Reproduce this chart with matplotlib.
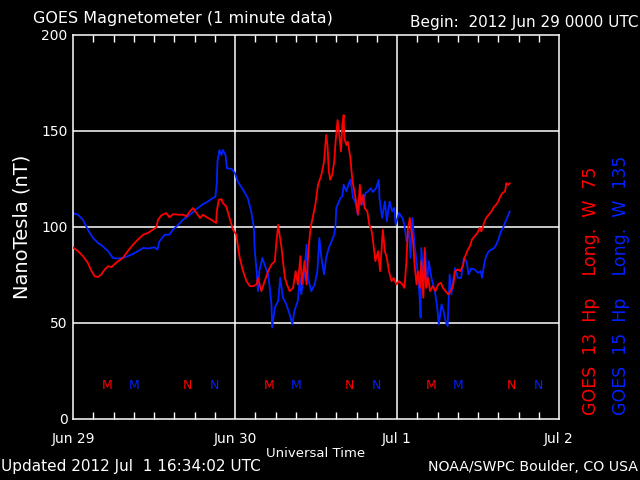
import matplotlib
matplotlib.use("Agg")
import matplotlib.pyplot as plt
import numpy as np

# Hours since 2012 Jun 29 00:00 UTC and field values (nT)
g13_hours = [0.0, 0.74, 1.48, 2.2, 2.7, 3.2, 3.7, 4.2, 4.7, 5.2, 5.7, 6.2, 6.7, 7.4, 8.1, 8.9, 9.6, 10.4,
             11.1, 11.85, 12.35, 12.6, 13.1, 13.8, 14.3, 14.8, 15.6, 16.3, 16.8, 17.3, 17.8, 18.3, 18.8,
             19.26, 20.0, 20.7, 21.2, 21.3, 21.6, 22.0, 22.2,
             22.7, 23.2, 23.7, 24.2, 24.4, 24.7, 25.2, 25.7, 26.2, 26.7, 27.2, 27.4, 27.9, 28.4, 28.9,
             29.4, 29.9, 30.1, 30.4, 30.6, 30.9, 31.1, 31.4, 31.7, 32.1, 32.6, 33.0,
             33.3, 33.7, 33.9, 34.3, 34.6, 34.9, 35.2, 35.5, 35.9, 36.3, 36.8, 37.2, 37.5, 37.7, 37.9,
             38.1, 38.4, 38.7, 38.9, 39.2, 39.4, 39.7, 39.9, 40.1, 40.2, 40.5, 40.7, 41.1, 41.4, 41.7,
             42.0, 42.2, 42.5, 42.7, 43.0, 43.2, 43.6, 43.9, 44.2,
             44.4, 44.8, 45.2, 45.5, 45.9, 46.2, 46.5, 46.8, 47.2, 47.5, 47.9, 48.3, 48.8, 49.1, 49.4,
             49.6, 49.9, 50.1, 50.4, 50.6, 50.9, 51.1, 51.4, 51.6, 51.9, 52.1, 52.3, 52.6, 52.9, 53.3,
             53.7, 54.1, 54.5, 54.8, 55.2, 55.6,
             55.95, 56.3, 56.6, 57.0, 57.4, 57.8, 58.0, 58.4, 58.8, 59.1, 59.5, 59.9, 60.25, 60.5, 60.9,
             61.2, 61.6, 62.0, 62.4, 62.7, 63.0, 63.3, 63.6, 64.0, 64.2, 64.5, 64.7]
g13_values = [89.4, 87.4, 84.8, 81.3, 77.3, 74.4, 73.9, 75.3, 77.9, 79.6, 79.1, 80.8, 82.2, 83.9, 87.4, 90.8, 93.4, 96.0,
              96.9, 98.6, 99.8, 103.8, 106.1, 107.3, 105.0, 106.7, 106.4, 106.4, 105.5, 108.1, 109.9, 107.3, 104.7,
              106.4, 104.7, 103.3, 102.1, 108.1, 114.2, 114.5, 112.5,
              110.7, 104.7, 98.6, 96.0, 90.8, 83.9, 77.0, 71.8, 69.2, 69.2, 70.1, 73.5, 66.6, 71.8, 77.0,
              80.4, 82.2, 90.8, 101.2, 96.0, 89.1, 82.2, 73.5, 70.1, 66.6, 68.3, 77.0,
              70.1, 84.8, 70.1, 82.2, 70.1, 89.1, 99.5, 104.7, 111.6, 122.0, 127.2, 134.1, 147.9, 142.7, 128.9,
              124.6, 127.2, 134.1, 144.5, 155.7, 149.7, 139.3, 153.1, 158.3, 146.2, 142.7, 144.5, 135.8, 123.7, 118.5,
              111.6, 106.4, 122.0, 111.6, 116.8, 109.9, 108.1, 101.2, 98.6,
              94.3, 82.2, 87.4, 77.0, 98.6, 87.4, 83.9, 77.0, 71.8, 73.5, 70.1, 71.8, 70.1, 68.3, 82.2,
              98.6, 104.7, 98.6, 91.8, 80.4, 70.1, 77.0, 68.3, 82.2, 63.2, 89.1, 68.3, 73.5, 66.6, 69.2,
              66.6, 70.1, 71.0, 68.3, 66.6, 64.9,
              66.6, 69.2, 77.0, 77.9, 77.0, 80.4, 83.9, 87.4, 90.0, 93.4, 95.2, 96.9, 99.5, 97.7, 102.1,
              104.7, 106.4, 108.1, 110.7, 111.6, 113.3, 115.9, 117.6, 118.5, 122.8, 122.0, 122.8]

g15_hours = [0.0, 0.74, 1.48, 2.2, 2.96, 3.7, 4.4, 5.2, 5.9, 6.7, 7.4, 8.1, 8.9, 9.6, 10.4,
             11.1, 12.1, 12.5, 12.8, 13.6, 14.3, 14.8, 15.6, 16.3, 17.0, 17.8, 18.5, 19.26, 20.0, 20.7,
             21.1, 21.3, 21.4, 21.7, 22.0, 22.2,
             22.6, 22.8, 23.5, 24.0, 24.4, 25.2, 25.9, 26.4, 26.8, 26.9, 27.2, 27.4, 27.6, 28.05, 28.4,
             28.9, 29.1, 29.4, 29.5, 29.9, 30.4, 30.7, 31.1, 31.6, 32.1, 32.5, 32.8, 33.3,
             33.6, 33.8, 34.2, 34.6, 34.8, 35.3, 35.8, 36.2, 36.5, 36.8, 37.2, 37.5, 37.9, 38.3, 38.7,
             38.9, 39.0, 39.3, 39.6, 39.9, 40.1, 40.5, 40.8, 41.1, 41.5, 41.8, 42.2, 42.6, 43.0, 43.3,
             43.7, 44.1, 44.4,
             44.9, 45.3, 45.4, 45.8, 46.2, 46.5, 46.9, 47.3, 47.6, 47.8, 48.3, 48.8, 49.1, 49.4, 49.8,
             50.0, 50.3, 50.6, 50.9, 51.3, 51.5, 51.6, 51.9, 52.2, 52.4, 52.7, 53.1, 53.6, 53.9, 54.2,
             54.6, 54.9, 55.2, 55.5,
             55.8, 56.05, 56.3, 56.6, 57.0, 57.5, 57.9, 58.3, 58.6, 59.0, 59.5, 60.0, 60.4, 60.6, 60.9,
             61.2, 61.6, 62.0, 62.4, 62.7, 63.1, 63.4, 63.7, 64.1, 64.4, 64.7]
g15_values = [107.3, 106.4, 103.8, 98.6, 94.3, 91.7, 90.0, 87.4, 83.9, 83.6, 83.9, 84.8, 86.0, 87.4, 89.1,
              88.8, 89.4, 88.2, 92.5, 96.0, 96.0, 98.6, 101.2, 103.8, 105.5, 107.8, 109.9, 111.9, 113.3, 115.0,
              115.9, 122.8, 134.0, 140.1, 137.5, 140.1,
              137.5, 130.6, 130.3, 128.0, 123.7, 119.4, 115.0, 108.1, 99.5, 89.1, 77.0, 66.6, 77.0, 83.9, 80.4,
              75.3, 70.1, 59.7, 47.6, 58.0, 61.4, 73.6, 63.2, 59.7, 54.5, 49.3, 56.2, 61.4,
              73.5, 64.9, 73.5, 90.8, 73.5, 66.6, 70.1, 77.0, 94.3, 83.9, 75.3, 83.9, 89.1, 92.5, 96.0,
              101.2, 109.9, 112.5, 115.0, 115.9, 122.0, 118.5, 122.0, 124.6, 115.0, 113.3, 106.4, 115.0, 111.6, 117.6,
              118.5, 120.2, 118.2,
              120.2, 124.6, 115.0, 104.7, 113.3, 103.0, 113.3, 108.1, 109.9, 101.2, 107.3, 104.7, 101.2, 92.5, 97.7,
              83.9, 104.7, 90.8, 82.2, 66.6, 52.8, 89.1, 73.5, 87.4, 68.3, 82.2, 73.5, 66.6, 59.7, 49.3,
              59.7, 56.2, 51.0, 48.4,
              75.3, 64.9, 71.8, 78.7, 73.5, 73.5, 83.9, 82.2, 75.3, 78.4, 77.9, 76.1, 77.0, 73.5, 80.4,
              84.8, 87.4, 88.2, 89.1, 90.8, 94.3, 97.7, 99.5, 102.9, 105.5, 108.1]

# Local midnight (M) / noon (N) markers
g13_marks = [(5, "M"), (17, "N"), (29, "M"), (41, "N"), (53, "M"), (65, "N")]
g15_marks = [(9, "M"), (21, "N"), (33, "M"), (45, "N"), (57, "M"), (69, "N")]

x_tick_pos = [0, 24, 48, 72]
x_tick_labels = ["Jun 29", "Jun 30", "Jul 1", "Jul 2"]
y_ticks = [0, 50, 100, 150, 200]

RED = "#ff0000"
BLUE = "#0022ff"

fig = plt.figure(figsize=(6.4, 4.8), dpi=100, facecolor="black")
ax = fig.add_axes([73/640, 1-419/480, (559-73)/640, (419-35)/480], facecolor="black")

ax.set_xlim(0, 72)
ax.set_ylim(0, 200)

for y in [50, 100, 150]:
    ax.axhline(y, color="white", lw=1.1, zorder=1)
for x in [24, 48]:
    ax.axvline(x, color="white", lw=1.1, zorder=1)

ax.plot(g15_hours, g15_values, color=BLUE, lw=1.3, zorder=2)
ax.plot(g13_hours, g13_values, color=RED, lw=1.3, zorder=3)

for h, s in g13_marks:
    ax.text(h, 17.7, s, color=RED, fontsize=9, ha="center", va="center")
for h, s in g15_marks:
    ax.text(h, 17.7, s, color=BLUE, fontsize=9, ha="center", va="center")

for sp in ax.spines.values():
    sp.set_color("white")
    sp.set_linewidth(1.1)

ax.set_xticks(x_tick_pos)
ax.set_xticklabels(x_tick_labels)
ax.set_xticks(np.arange(0, 73, 3), minor=True)
ax.set_yticks(y_ticks)
ax.tick_params(axis="x", which="major", direction="in", length=0, colors="white",
               labelsize=10, pad=9)
ax.tick_params(axis="x", which="minor", direction="in", length=5, colors="white",
               top=True, bottom=True, width=1)
ax.tick_params(axis="y", which="major", direction="in", length=0, colors="white",
               labelsize=10, pad=4)

ax.set_xlabel("Universal Time", color="white", fontsize=9.5, labelpad=1)
ax.set_ylabel("NanoTesla (nT)", color="white", fontsize=14, labelpad=7)

fig.text(33/640, 1-18/480, "GOES Magnetometer (1 minute data)", color="white",
         fontsize=11.5, ha="left", va="center")
fig.text(638/640, 1-22/480, "Begin:  2012 Jun 29 0000 UTC", color="white",
         fontsize=11, ha="right", va="center")
fig.text(1/640, 1-467/480, "Updated 2012 Jul  1 16:34:02 UTC", color="white",
         fontsize=11, ha="left", va="center")
fig.text(638/640, 1-467/480, "NOAA/SWPC Boulder, CO USA", color="white",
         fontsize=10.2, ha="right", va="center")

fig.text(591/640, 1-415/480, "GOES  13  Hp    Long.  W  75", color=RED, fontsize=12.5,
         rotation=90, ha="center", va="bottom")
fig.text(621/640, 1-415/480, "GOES  15  Hp    Long.  W  135", color=BLUE, fontsize=12.5,
         rotation=90, ha="center", va="bottom")

fig.savefig("out.png", dpi=100, facecolor="black")
